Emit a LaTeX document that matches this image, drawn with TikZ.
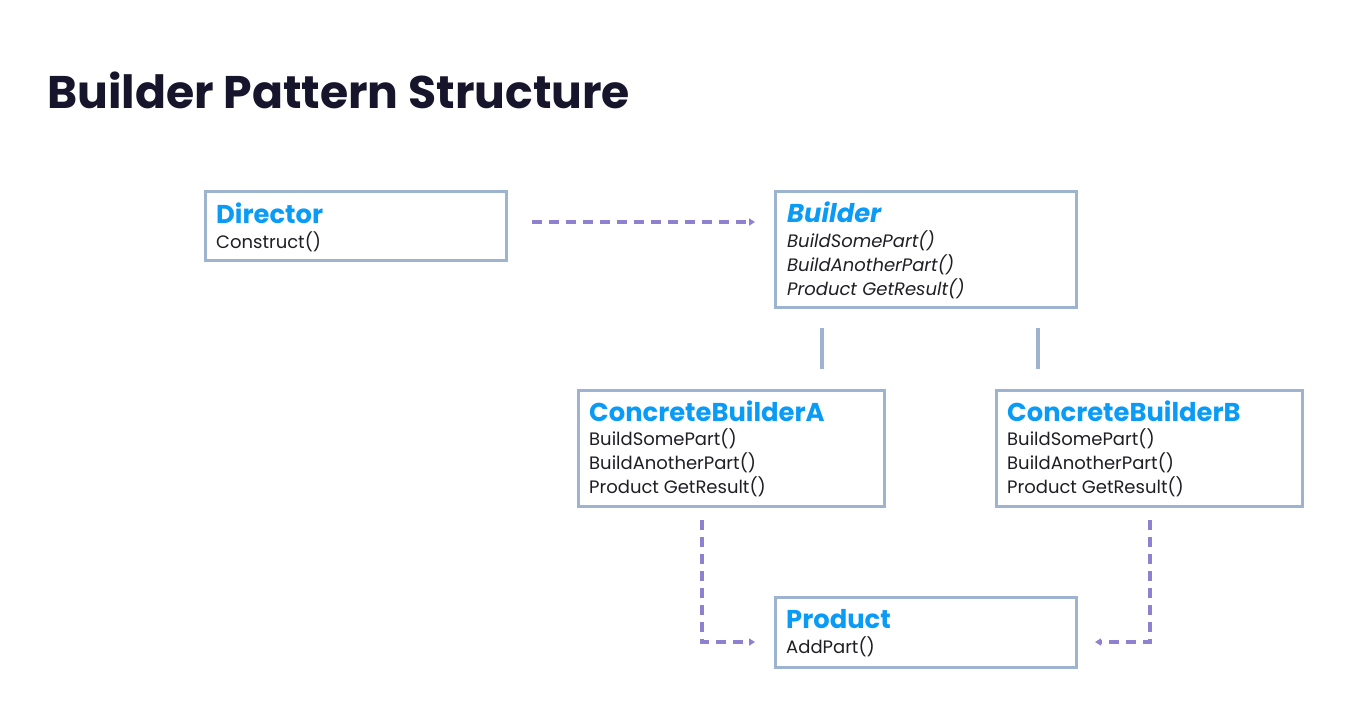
\documentclass[tikz,border=0pt]{standalone}
\usepackage{fontspec}
\setmainfont{Poppins}
\usetikzlibrary{arrows.meta}
\definecolor{titleblue}{HTML}{0A9BF7}
\definecolor{boxline}{HTML}{9DB3CF}
\definecolor{dashpurple}{HTML}{9080D0}
\definecolor{inkdark}{HTML}{16152B}
\definecolor{bodyink}{HTML}{1E1E24}
\tikzset{
  umlbox/.style={draw=boxline, line width=2.8pt, anchor=north west, inner sep=0pt, fill=white},
  boxtitle/.style={anchor=base west, inner sep=0pt, text=titleblue, font=\fontsize{25.8}{30}\selectfont\bfseries},
  boxline/.style={anchor=base west, inner sep=0pt, text=bodyink, font=\fontsize{18}{21}\selectfont},
  dep/.style={draw=dashpurple, line width=3.2pt, dash pattern=on 10pt off 7pt, -{Triangle[length=6pt,width=7pt]}},
  gen/.style={draw=boxline, line width=3.2pt},
}
\begin{document}
\begin{tikzpicture}[x=1pt,y=-1pt]
\useasboundingbox[fill=white] (0,0) rectangle (1371,713);
\node[anchor=base west, inner sep=0pt, text=inkdark, font=\fontsize{45.7}{54}\selectfont\bfseries] (title) at (47,108) {Builder Pattern Structure};

% boxes
\node[umlbox, minimum width=301pt, minimum height=69pt] (director) at (204,190) {};
\node[umlbox, minimum width=301pt, minimum height=116pt] (builder) at (774,190) {};
\node[umlbox, minimum width=306pt, minimum height=116pt] (cba) at (577,389) {};
\node[umlbox, minimum width=306pt, minimum height=116pt] (cbb) at (995,389) {};
\node[umlbox, minimum width=301pt, minimum height=70pt] (product) at (774,596) {};

% texts
\node[boxtitle] (dirT) at (216,223) {Director};
\node[boxline] (dir1) at (216,248) {Construct()};

\node[boxtitle] (bT) at (787,222) {\itshape Builder};
\node[boxline] (b1) at (787,247) {\itshape BuildSomePart()};
\node[boxline] (b2) at (787,271) {\itshape BuildAnotherPart()};
\node[boxline] (b3) at (787,295) {\itshape Product GetResult()};

\node[boxtitle] (aT) at (589,421) {ConcreteBuilderA};
\node[boxline] (a1) at (589,445) {BuildSomePart()};
\node[boxline] (a2) at (589,469) {BuildAnotherPart()};
\node[boxline] (a3) at (589,493) {Product GetResult()};

\node[boxtitle] (cT) at (1007,421) {ConcreteBuilderB};
\node[boxline] (c1) at (1007,445) {BuildSomePart()};
\node[boxline] (c2) at (1007,469) {BuildAnotherPart()};
\node[boxline] (c3) at (1007,493) {Product GetResult()};

\node[boxtitle] (pT) at (786,628) {Product};
\node[boxline] (p1) at (786,653) {AddPart()};

% connector endpoints
\coordinate (dirOut) at (532,222);
\coordinate (bldIn) at (755,222);
\coordinate (genA1) at (822,328);
\coordinate (genA2) at (822,369);
\coordinate (genB1) at (1038,328);
\coordinate (genB2) at (1038,369);
\coordinate (aOut) at (702,520);
\coordinate (aIn) at (755,642);
\coordinate (bOut) at (1150,520);
\coordinate (bIn) at (1095,642);

\draw[dep] (dirOut) -- (bldIn);
\draw[gen] (genA1) -- (genA2);
\draw[gen] (genB1) -- (genB2);
\draw[dep] (aOut) |- (aIn);
\draw[dep] (bOut) |- (bIn);
\end{tikzpicture}
\end{document}
